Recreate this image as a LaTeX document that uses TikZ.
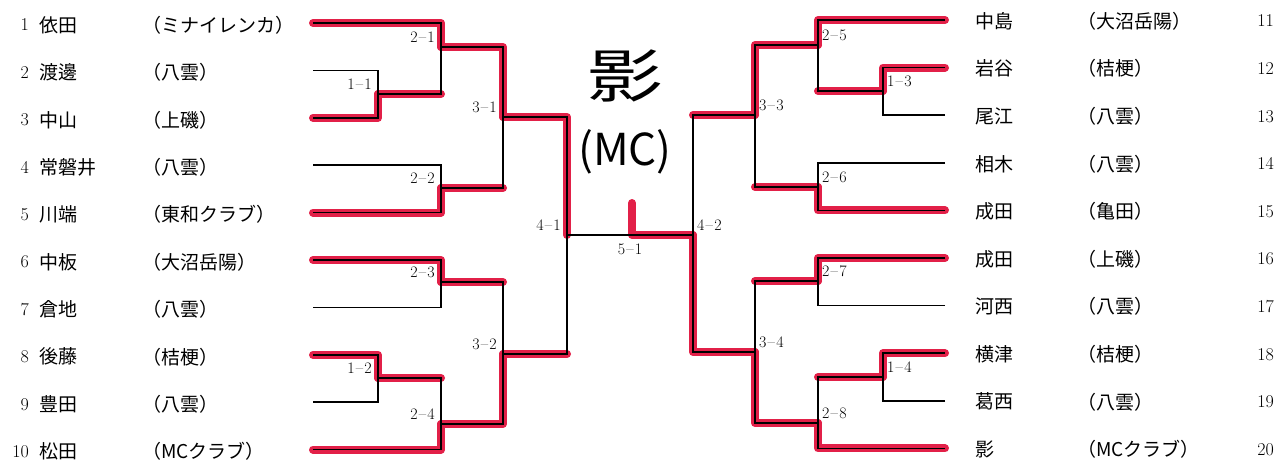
\documentclass[tikz,border=0pt]{standalone}
\usepackage{fontspec}
\newfontfamily\cjk{Noto Sans CJK JP}
\definecolor{marker}{RGB}{226,32,72}
\newcommand{\mdash}{\kern1.2pt–\kern1.2pt}
\begin{document}
\begin{tikzpicture}[x=1pt,y=-1pt,
  bline/.style={line width=1.6pt},
  win/.style={line width=8pt, draw=marker, line cap=round, line join=round},
  num/.style={font=\fontsize{18}{18}\selectfont, inner sep=0pt},
  pname/.style={font=\cjk\fontsize{19}{19}\selectfont, inner sep=0pt, anchor=west},
  mlab/.style={font=\fontsize{16}{16}\selectfont, inner sep=0pt}]
  \useasboundingbox (0,0) rectangle (1277,461);
  % players
  \foreach \i in {1,...,10} \coordinate (p\i) at (313,{23+(\i-1)*47.4});
  \foreach \i in {11,...,20} \coordinate (p\i) at (945,{20+(\i-11)*47.6});
  % match points
  \foreach \m/\x/\y in {m11/378/94, m21/441/47, m22/441/188, m31/503/117,
      m23/441/282, m12/378/378, m24/441/424, m32/503/354, m41/567/235,
      m13/883/91, m25/818/45, m26/818/187, m33/755/115,
      m27/818/281, m14/883/377, m28/818/423, m34/755/352, m42/693/235}
    \coordinate (\m) at (\x,\y);
  \coordinate (mark) at (632,203);
  % marker
  \foreach \a/\b in {p1/m21, m21/m31, m31/m41, p3/m11, p5/m22, p6/m23, p8/m12,
      p10/m24, m24/m32, p11/m25, m25/m33, p12/m13, p15/m26, p16/m27, p18/m14,
      p20/m28, m28/m34, m34/m42}
    \draw[win] (\a) -| (\b);
  \foreach \a/\b in {m11/m21, m22/m31, m23/m32, m12/m24, m32/m41,
      m13/m25, m26/m33, m33/m42, m27/m34, m14/m28}
    \draw[win] (\a) -- (\a -| \b);
  \draw[win] (mark) |- (m42);
  % bracket
  \foreach \a/\b in {p2/m11, p3/m11, p1/m21, m11/m21, p4/m22, p5/m22, m21/m31, m22/m31,
      p6/m23, p7/m23, p8/m12, p9/m12, m12/m24, p10/m24, m23/m32, m24/m32, m31/m41, m32/m41,
      p12/m13, p13/m13, p11/m25, m13/m25, p14/m26, p15/m26, m25/m33, m26/m33,
      p16/m27, p17/m27, p18/m14, p19/m14, m14/m28, p20/m28, m27/m34, m28/m34, m33/m42, m34/m42}
    \draw[bline] (\a) -| (\b);
  \draw[bline] (m41) -- (m42);
  % match labels
  \foreach \m/\r/\k in {m11/1/1, m21/2/1, m22/2/2, m31/3/1, m23/2/3, m12/1/2, m24/2/4, m32/3/2, m41/4/1}
    \node[mlab, anchor=south east] (l\m) at ([shift={(-6,-4)}]\m) {\r\mdash\k};
  \foreach \m/\r/\k in {m13/1/3, m25/2/5, m26/2/6, m33/3/3, m27/2/7, m14/1/4, m28/2/8, m34/3/4, m42/4/2}
    \node[mlab, anchor=south west] (l\m) at ([shift={(4,-4)}]\m) {\r\mdash\k};
  \node[mlab] (l51) at (630,249) {5\mdash1};
  % players, left
  \foreach \i/\n/\c in {1/依田/（ミナイレンカ）, 2/渡邊/（八雲）, 3/中山/（上磯）, 4/常磐井/（八雲）,
      5/川端/（東和クラブ）, 6/中板/（大沼岳陽）, 7/倉地/（八雲）, 8/後藤/（桔梗）,
      9/豊田/（八雲）, 10/松田/（MCクラブ）} {
    \node[num, anchor=east] (k\i) at (29,{25+(\i-1)*47.4}) {\i};
    \node[pname] (n\i) at (39,{25+(\i-1)*47.4}) {\n};
    \node[pname] (c\i) at (142,{25+(\i-1)*47.4}) {\c};
  }
  % players, right
  \foreach \i/\n/\c in {11/中島/（大沼岳陽）, 12/岩谷/（桔梗）, 13/尾江/（八雲）, 14/相木/（八雲）,
      15/成田/（亀田）, 16/成田/（上磯）, 17/河西/（八雲）, 18/横津/（桔梗）,
      19/葛西/（八雲）, 20/影/（MCクラブ）} {
    \node[num, anchor=east] (k\i) at (1274,{21+(\i-11)*47.6}) {\i};
    \node[pname] (n\i) at (975,{21+(\i-11)*47.6}) {\n};
    \node[pname] (c\i) at (1077,{21+(\i-11)*47.6}) {\c};
  }
  % winner, handwritten
  \node[font=\cjk\fontsize{58}{58}\selectfont, xscale=1.3] (kage) at (625,76) {影};
  \node[font=\cjk\fontsize{44}{44}\selectfont] (mc) at (625,152) {(MC)};
\end{tikzpicture}
\end{document}
